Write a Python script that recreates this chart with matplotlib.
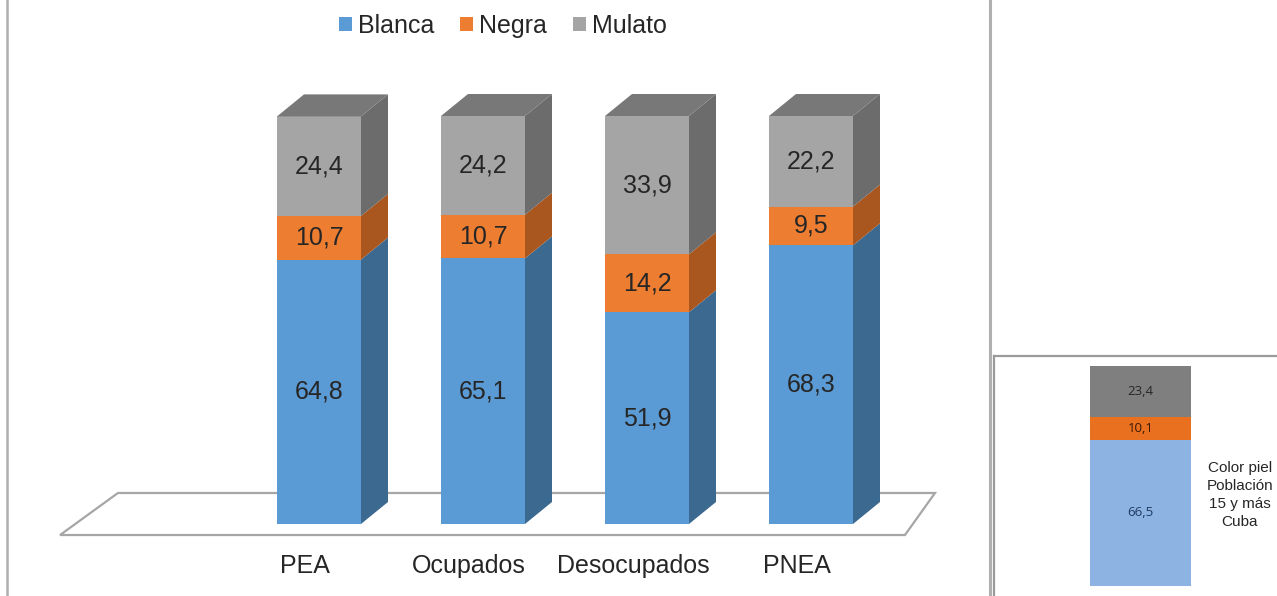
import matplotlib
matplotlib.use("Agg")
import matplotlib.pyplot as plt
from matplotlib.patches import Polygon, Patch
from matplotlib.lines import Line2D

plt.rcParams['font.family'] = ['Liberation Sans', 'DejaVu Sans']

# ---------------- data ----------------
categories = ["PEA", "Ocupados", "Desocupados", "PNEA"]
series_names = ["Blanca", "Negra", "Mulato"]
blanca = [64.8, 65.1, 51.9, 68.3]
negra = [10.7, 10.7, 14.2, 9.5]
mulato = [24.4, 24.2, 33.9, 22.2]
labels_blanca = ["64,8", "65,1", "51,9", "68,3"]
labels_negra = ["10,7", "10,7", "14,2", "9,5"]
labels_mulato = ["24,4", "24,2", "33,9", "22,2"]

inset_values = [66.5, 10.1, 23.4]
inset_labels = ["66,5", "10,1", "23,4"]
inset_text = "Color piel\nPoblación\n15 y más\nCuba"

# ---------------- style ----------------
W, H = 1277, 596
front_colors = ["#5b9bd5", "#ed7d31", "#a5a5a5"]
side_colors = ["#3c6990", "#a9561f", "#6c6c6c"]
top_color = "#787878"
inset_colors = ["#8db3e2", "#e8701f", "#7f7f7f"]
inset_text_colors = ["#1f3b63", "#3a1a06", "#262626"]
txt = "#262626"

fig = plt.figure(figsize=(W / 100, H / 100), dpi=100)
fig.patch.set_facecolor("white")

# main axes covering whole figure, data coords mapped to pixel layout
ax = fig.add_axes([0, 0, 1, 1])
px_per_cat = 164.0
px_per_unit = 4.08
x0_px, y0_px = 319.0, 524.0
ax.set_xlim(-x0_px / px_per_cat, (W - x0_px) / px_per_cat)
ax.set_ylim(-(H - y0_px) / px_per_unit, y0_px / px_per_unit)
ax.axis("off")

# floor parallelogram
floor = Polygon([(-1.579, -2.7), (-1.226, 7.6), (3.756, 7.6), (3.573, -2.7)],
                closed=True, facecolor="white", edgecolor="#a6a6a6", lw=1.6, zorder=1)
ax.add_patch(floor)

w = 84 / px_per_cat
dx = 27 / px_per_cat
dy = 22 / px_per_unit

data = [blanca, negra, mulato]
labs = [labels_blanca, labels_negra, labels_mulato]
xs = list(range(len(categories)))
bottoms = [0.0] * len(categories)
for s, vals in enumerate(data):
    ax.bar(xs, vals, bottom=bottoms, width=w, color=front_colors[s], zorder=3,
           linewidth=0)
    for i, v in enumerate(vals):
        b = bottoms[i]
        xr = i + w / 2
        side = Polygon([(xr, b), (xr + dx, b + dy), (xr + dx, b + v + dy), (xr, b + v)],
                       closed=True, facecolor=side_colors[s], edgecolor="none", zorder=2.5)
        ax.add_patch(side)
        ax.text(i, b + v / 2, labs[s][i], ha="center", va="center", fontsize=18,
                color=txt, zorder=5)
    bottoms = [bottoms[i] + vals[i] for i in range(len(vals))]

for i, t in enumerate(bottoms):
    xl, xr = i - w / 2, i + w / 2
    top = Polygon([(xl, t), (xl + dx, t + dy), (xr + dx, t + dy), (xr, t)],
                  closed=True, facecolor=top_color, edgecolor="none", zorder=3.5)
    ax.add_patch(top)

for i, c in enumerate(categories):
    ax.text(i - 14 / px_per_cat, -10.3, c, ha="center", va="center", fontsize=18,
            color=txt)

# legend
handles = [Patch(facecolor=front_colors[k], edgecolor="none") for k in range(3)]
fig.legend(handles, series_names, loc="center", bbox_to_anchor=(503 / W, 1 - 26 / H),
           ncol=3, frameon=False, fontsize=18, handlelength=0.5, handleheight=0.5,
           handletextpad=0.25, columnspacing=1.05, labelcolor=txt)

# frame lines
def fig_line(x1, y1, x2, y2, color="#b0b0b0", lw=2.0):
    fig.add_artist(Line2D([x1 / W, x2 / W], [1 - y1 / H, 1 - y2 / H],
                          color=color, lw=lw, transform=fig.transFigure, zorder=10))

fig_line(7, 0, 7, H, lw=1.8)
fig_line(990, 0, 990, H, lw=2.2)
fig_line(994, 356, W, 356, color="#9a9a9a", lw=1.6)
fig_line(994, 356, 994, H, color="#9a9a9a", lw=1.6)

# inset axes
ix0, iy0, ix1, iy1 = 995, 357, W, H
iax = fig.add_axes([ix0 / W, 1 - iy1 / H, (ix1 - ix0) / W, (iy1 - iy0) / H])
iax.axis("off")
bar_cx, bar_w = 1140.5, 101.0
ipx_unit = 2.2
ibase = 586.0
iax.set_xlim((ix0 - bar_cx) / bar_w, (ix1 - bar_cx) / bar_w)
iax.set_ylim(-(iy1 - ibase) / ipx_unit, (ibase - iy0) / ipx_unit)
b = 0.0
for k, v in enumerate(inset_values):
    iax.bar([0], [v], bottom=[b], width=1.0, color=inset_colors[k], linewidth=0)
    iax.text(0, b + v / 2, inset_labels[k], ha="center", va="center", fontsize=9.5,
             color=inset_text_colors[k], family=["Open Sans", "DejaVu Sans"])
    b += v
iax.text((1240 - bar_cx) / bar_w, (ibase - 495) / ipx_unit, inset_text, ha="center",
         va="center", fontsize=11, color=txt, linespacing=1.35)

fig.savefig("out.png", dpi=100, facecolor="white")
